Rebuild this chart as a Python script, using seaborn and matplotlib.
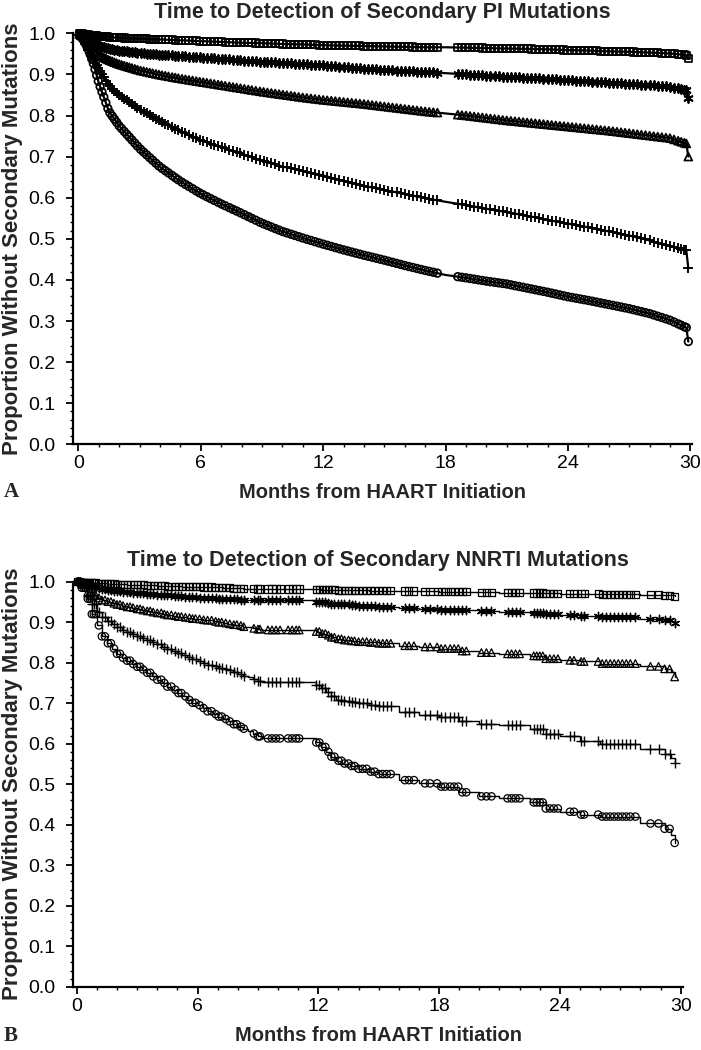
import numpy as np
import matplotlib
matplotlib.use("Agg")
import matplotlib.pyplot as plt
import seaborn as sns
from matplotlib.ticker import MultipleLocator

# ---------------- data ----------------
groups = ["square", "star", "triangle", "plus", "circle"]

# Panel A: Secondary PI mutations (knots of the survival curves)
tA = [0, 0.25, 0.5, 0.75, 1, 1.5, 2, 3, 4, 5, 6, 7, 8, 9, 10, 11, 12, 13, 14, 15,
      16, 17, 18, 19, 20, 21, 22, 23, 24, 25, 26, 27, 28, 29, 29.8, 29.9]
pi_square = [1.0, 0.998, 0.996, 0.994, 0.993, 0.991, 0.989, 0.987, 0.985, 0.983, 0.981, 0.979,
             0.977, 0.976, 0.974, 0.973, 0.971, 0.970, 0.969, 0.968, 0.967, 0.966, 0.966, 0.965,
             0.964, 0.963, 0.962, 0.961, 0.959, 0.958, 0.956, 0.955, 0.953, 0.951, 0.947, 0.939]
pi_star = [1.0, 0.995, 0.985, 0.976, 0.970, 0.963, 0.958, 0.952, 0.948, 0.945, 0.941, 0.938,
           0.934, 0.931, 0.928, 0.925, 0.922, 0.918, 0.914, 0.911, 0.908, 0.906, 0.903, 0.900,
           0.897, 0.894, 0.892, 0.889, 0.886, 0.883, 0.880, 0.877, 0.874, 0.870, 0.862, 0.842]
pi_triangle = [1.0, 0.990, 0.978, 0.962, 0.947, 0.935, 0.925, 0.910, 0.899, 0.890, 0.882, 0.874,
               0.866, 0.858, 0.851, 0.844, 0.838, 0.833, 0.828, 0.822, 0.816, 0.810, 0.805, 0.800,
               0.794, 0.788, 0.783, 0.778, 0.773, 0.768, 0.763, 0.757, 0.751, 0.745, 0.732, 0.700]
pi_plus = [1.0, 0.985, 0.960, 0.935, 0.913, 0.873, 0.850, 0.815, 0.787, 0.762, 0.740, 0.723,
           0.707, 0.690, 0.676, 0.665, 0.654, 0.641, 0.629, 0.619, 0.609, 0.599, 0.590, 0.582,
           0.573, 0.565, 0.556, 0.546, 0.537, 0.528, 0.518, 0.508, 0.496, 0.482, 0.472, 0.428]
pi_circle = [1.0, 0.985, 0.960, 0.925, 0.880, 0.810, 0.775, 0.720, 0.675, 0.640, 0.610, 0.585,
             0.562, 0.538, 0.518, 0.502, 0.487, 0.473, 0.460, 0.448, 0.435, 0.423, 0.412, 0.405,
             0.397, 0.390, 0.380, 0.370, 0.359, 0.350, 0.340, 0.330, 0.318, 0.302, 0.284, 0.250]

# censoring times (months) marked on the PI curves
censA = [0.05, 0.12, 0.2, 0.28, 0.35, 0.42, 0.5, 0.58, 0.66, 0.74, 0.82, 0.9, 0.98, 1.07, 1.16,
         1.25, 1.35, 1.45, 1.55, 1.66, 1.77, 1.88, 2.0, 2.12, 2.25, 2.38, 2.5, 2.63, 2.77, 2.9,
         3.05, 3.2, 3.35, 3.5, 3.64, 3.8, 3.95, 4.1, 4.26, 4.42, 4.6, 4.75, 4.9, 5.08, 5.25,
         5.42, 5.6, 5.78, 5.95, 6.12, 6.3, 6.48, 6.66, 6.85, 7.02, 7.2, 7.4, 7.58, 7.76, 7.95,
         8.14, 8.33, 8.5, 8.7, 8.9, 9.08, 9.27, 9.46, 9.65, 9.84, 10.03, 10.22, 10.42, 10.6,
         10.8, 11.0, 11.2, 11.4, 11.6, 11.8, 12.0, 12.2, 12.4, 12.6, 12.8, 13.0, 13.2, 13.4,
         13.6, 13.8, 14.0, 14.2, 14.4, 14.6, 14.8, 15.0, 15.2, 15.4, 15.6, 15.8, 16.0, 16.2,
         16.4, 16.6, 16.8, 17.0, 17.2, 17.4, 17.6, 18.6, 18.8, 19.0, 19.2, 19.4, 19.6, 19.8,
         20.0, 20.2, 20.4, 20.6, 20.8, 21.0, 21.2, 21.4, 21.6, 21.8, 22.0, 22.2, 22.4, 22.6,
         22.8, 23.0, 23.2, 23.4, 23.6, 23.8, 24.0, 24.2, 24.4, 24.6, 24.8, 25.0, 25.2, 25.4,
         25.6, 25.8, 26.0, 26.2, 26.4, 26.6, 26.8, 27.0, 27.2, 27.4, 27.6, 27.8, 28.0, 28.2,
         28.4, 28.6, 28.8, 29.0, 29.2, 29.4, 29.55, 29.7, 29.8, 29.9]

# Panel B: Secondary NNRTI mutations (step knots)
tB = [0, 0.25, 0.5, 0.75, 1.0, 1.25, 1.5, 1.75, 2.0, 2.25, 2.5, 2.75, 3.0, 3.25, 3.5, 3.75,
      4.0, 4.25, 4.5, 4.75, 5.0, 5.25, 5.5, 5.75, 6.0, 6.25, 6.5, 6.75, 7.0, 7.25, 7.5, 7.75,
      8.0, 8.25, 8.5, 8.75, 9.0, 9.2, 11.9, 12.15, 12.4, 12.65, 12.9, 13.2, 13.6, 14, 14.5,
      15, 16, 17, 18, 19, 20, 21, 22.5, 23.3, 24, 25, 26, 28, 29.2, 29.5, 29.7]
nn_square = [1.0, 0.999, 0.998, 0.997, 0.996, 0.996, 0.995, 0.995, 0.994, 0.994, 0.993, 0.993,
             0.992, 0.992, 0.991, 0.991, 0.990, 0.990, 0.989, 0.989, 0.989, 0.988, 0.988, 0.988,
             0.988, 0.987, 0.987, 0.986, 0.986, 0.985, 0.985, 0.984, 0.984, 0.983, 0.983, 0.983,
             0.982, 0.982, 0.981, 0.980, 0.980, 0.980, 0.979, 0.979, 0.979, 0.979, 0.978, 0.978,
             0.977, 0.976, 0.975, 0.975, 0.974, 0.973, 0.972, 0.971, 0.970, 0.970, 0.969, 0.968,
             0.967, 0.966, 0.964]
nn_star = [1.0, 0.997, 0.992, 0.988, 0.985, 0.982, 0.980, 0.978, 0.976, 0.975, 0.974, 0.973,
           0.972, 0.971, 0.970, 0.969, 0.968, 0.967, 0.966, 0.965, 0.964, 0.963, 0.962, 0.961,
           0.960, 0.960, 0.959, 0.959, 0.958, 0.958, 0.957, 0.957, 0.956, 0.956, 0.955, 0.955,
           0.954, 0.954, 0.951, 0.949, 0.948, 0.946, 0.945, 0.944, 0.943, 0.941, 0.940, 0.938,
           0.936, 0.933, 0.931, 0.929, 0.927, 0.925, 0.923, 0.920, 0.918, 0.916, 0.913, 0.909,
           0.906, 0.903, 0.899]
nn_triangle = [1.0, 0.993, 0.975, 0.966, 0.960, 0.955, 0.951, 0.947, 0.944, 0.941, 0.938, 0.936,
               0.933, 0.930, 0.928, 0.925, 0.923, 0.920, 0.918, 0.916, 0.914, 0.912, 0.911, 0.909,
               0.908, 0.906, 0.905, 0.902, 0.900, 0.898, 0.896, 0.894, 0.892, 0.889, 0.887, 0.885,
               0.883, 0.881, 0.877, 0.872, 0.868, 0.863, 0.859, 0.856, 0.854, 0.852, 0.850, 0.848,
               0.842, 0.839, 0.835, 0.829, 0.825, 0.822, 0.817, 0.810, 0.806, 0.803, 0.798, 0.791,
               0.785, 0.778, 0.765]
nn_plus = [1.0, 0.990, 0.965, 0.945, 0.925, 0.912, 0.903, 0.895, 0.887, 0.881, 0.876, 0.871,
           0.866, 0.861, 0.856, 0.850, 0.845, 0.840, 0.834, 0.828, 0.823, 0.818, 0.813, 0.808,
           0.803, 0.799, 0.795, 0.791, 0.788, 0.785, 0.782, 0.777, 0.772, 0.768, 0.765, 0.760,
           0.756, 0.752, 0.745, 0.737, 0.728, 0.718, 0.709, 0.705, 0.702, 0.700, 0.696, 0.692,
           0.678, 0.671, 0.666, 0.655, 0.649, 0.645, 0.636, 0.623, 0.618, 0.606, 0.600, 0.588,
           0.574, 0.565, 0.552]
nn_circle = [1.0, 0.985, 0.958, 0.920, 0.892, 0.865, 0.848, 0.835, 0.822, 0.812, 0.805, 0.797,
             0.790, 0.783, 0.775, 0.766, 0.758, 0.750, 0.741, 0.733, 0.725, 0.717, 0.708, 0.701,
             0.695, 0.688, 0.680, 0.673, 0.667, 0.661, 0.655, 0.648, 0.642, 0.637, 0.632, 0.625,
             0.618, 0.613, 0.603, 0.592, 0.580, 0.568, 0.558, 0.551, 0.545, 0.538, 0.531, 0.525,
             0.510, 0.502, 0.494, 0.480, 0.470, 0.465, 0.455, 0.440, 0.432, 0.425, 0.420, 0.403,
             0.390, 0.375, 0.355]

censB = [0.05, 0.15, 0.25, 0.35, 0.45, 0.55, 0.65, 0.75, 0.85, 0.95, 1.1, 1.25, 1.4, 1.55, 1.7,
         1.85, 2.0, 2.15, 2.3, 2.5, 2.65, 2.8, 3.0, 3.15, 3.3, 3.5, 3.65, 3.8, 4.0, 4.2, 4.35,
         4.5, 4.7, 4.9, 5.05, 5.2, 5.4, 5.6, 5.75, 5.9, 6.1, 6.3, 6.5, 6.7, 6.9, 7.05, 7.2, 7.4,
         7.6, 7.8, 7.95, 8.15, 8.3, 8.8, 9.0, 9.1, 9.5, 9.7, 9.9, 10.1, 10.5, 10.7, 10.9, 11.05,
         11.9, 12.05, 12.2, 12.35, 12.5, 12.65, 12.8, 13.0, 13.15, 13.3, 13.5, 13.65, 13.8,
         14.0, 14.2, 14.4, 14.6, 14.8, 15.0, 15.2, 15.4, 15.6, 16.3, 16.5, 16.75, 17.3, 17.55,
         17.9, 18.1, 18.3, 18.55, 18.75, 18.95, 19.15, 19.35, 20.1, 20.35, 20.6, 21.4, 21.6,
         21.8, 22.0, 22.7, 22.85, 23.0, 23.15, 23.3, 23.5, 23.7, 23.9, 24.5, 24.7, 25.05, 25.2,
         25.9, 26.1, 26.3, 26.5, 26.7, 26.9, 27.1, 27.3, 27.5, 27.75, 28.5, 28.9, 29.2, 29.45,
         29.7]

panels = [
    dict(title="Time to Detection of Secondary PI Mutations", letter="A", t=tA, cens=censA,
         series=[pi_square, pi_star, pi_triangle, pi_plus, pi_circle], steps=False),
    dict(title="Time to Detection of Secondary NNRTI Mutations", letter="B", t=tB, cens=censB,
         series=[nn_square, nn_star, nn_triangle, nn_plus, nn_circle], steps=True),
]

xticks = [0, 6, 12, 18, 24, 30]
yticks = [0.0, 0.1, 0.2, 0.3, 0.4, 0.5, 0.6, 0.7, 0.8, 0.9, 1.0]
xlabel = "Months from HAART Initiation"
ylabel = "Proportion Without Secondary Mutations"

# ---------------- style ----------------
sns.set_theme(style="white")
plt.rcParams["font.family"] = ["Liberation Sans", "DejaVu Sans"]

W, H = 701, 1050
fig = plt.figure(figsize=(W / 100, H / 100), dpi=100)

# axes rectangles in pixels: left, top, right, bottom
rects = [(73.3, 33.3, 692.0, 444.3), (73.3, 581.7, 683.3, 986.7)]
xlims = [(-0.245, 30.08), (-0.17, 30.13)]
xlab_off = [48, 49]
marker_styles = {
    "square": dict(marker="s", filled=True),
    "star": dict(marker=(6, 2, 0), filled=False),
    "triangle": dict(marker="^", filled=True),
    "plus": dict(marker="+", filled=False),
    "circle": dict(marker="o", filled=True),
}
sizesA = {"square": 26, "star": 40, "triangle": 32, "plus": 46, "circle": 30}
sizesB = {"square": 26, "star": 36, "triangle": 30, "plus": 46, "circle": 28}

for p, (l, t, r, b), xl, xo in zip(panels, rects, xlims, xlab_off):
    ax = fig.add_axes([l / W, 1 - b / H, (r - l) / W, (b - t) / H])
    tt = np.asarray(p["t"], float)
    cens = np.asarray(p["cens"], float)
    for g, vals in zip(groups, p["series"]):
        vals = np.asarray(vals, float)
        assert len(vals) == len(tt)
        if p["steps"]:
            sns.lineplot(x=tt, y=vals, ax=ax, color="black", lw=1.0,
                         drawstyle="steps-post", estimator=None, sort=False)
            idx = np.searchsorted(tt, cens, side="right") - 1
            cy = vals[idx]
            size = sizesB[g]
            mlw = 0.9
        else:
            sns.lineplot(x=tt, y=vals, ax=ax, color="black", lw=1.6,
                         estimator=None, sort=False)
            cy = np.interp(cens, tt, vals)
            size = sizesA[g]
            mlw = 1.25
        ms = marker_styles[g]
        if ms["filled"]:
            sns.scatterplot(x=cens, y=cy, ax=ax, marker=ms["marker"], s=size,
                            color="black", facecolor="none", edgecolor="black",
                            linewidth=mlw, clip_on=False, zorder=3)
        else:
            sns.scatterplot(x=cens, y=cy, ax=ax, marker=ms["marker"], s=size,
                            color="black", edgecolor=None, linewidth=mlw + 0.1,
                            clip_on=False, zorder=3)

    ax.set_xlim(*xl)
    ax.set_ylim(0, 1.0)
    ax.set_xticks(xticks)
    ax.set_yticks(yticks)
    ax.set_xticklabels([str(v) for v in xticks])
    ax.set_yticklabels([f"{v:.1f}" for v in yticks])
    ax.xaxis.set_minor_locator(MultipleLocator(1))
    ax.yaxis.set_minor_locator(MultipleLocator(0.02))
    ax.tick_params(axis="both", which="major", direction="out", length=5, width=1.3,
                   color="black", labelsize=14, labelcolor="black", bottom=True, left=True)
    ax.tick_params(axis="both", which="minor", direction="out", length=2.5, width=1.0,
                   color="black", bottom=True, left=True)
    ax.tick_params(axis="y", which="major", pad=8)
    ax.tick_params(axis="x", which="major", pad=3)
    for side in ("top", "right"):
        ax.spines[side].set_visible(False)
    for side in ("left", "bottom"):
        ax.spines[side].set_color("black")
        ax.spines[side].set_linewidth(1.6)
    ax.set_xlabel("")
    ax.set_ylabel("")
    ax.grid(False)

    cx = (l + r) / 2 / W
    fig.text(cx, 1 - (t - 21) / H, p["title"], ha="center", va="center",
             fontsize=15.5, fontweight="bold")
    fig.text(cx, 1 - (b + xo) / H, xlabel, ha="center", va="center",
             fontsize=14.5, fontweight="bold")
    fig.text(13 / W, 1 - ((t + b) / 2) / H, ylabel, ha="center", va="center",
             rotation=90, fontsize=16, fontweight="bold")
    fig.text(4 / W, 1 - (b + xo) / H, p["letter"], ha="left", va="center",
             fontsize=15, fontweight="bold", family=["Liberation Serif", "DejaVu Serif"])

fig.savefig("out.png", dpi=100, facecolor="white")
